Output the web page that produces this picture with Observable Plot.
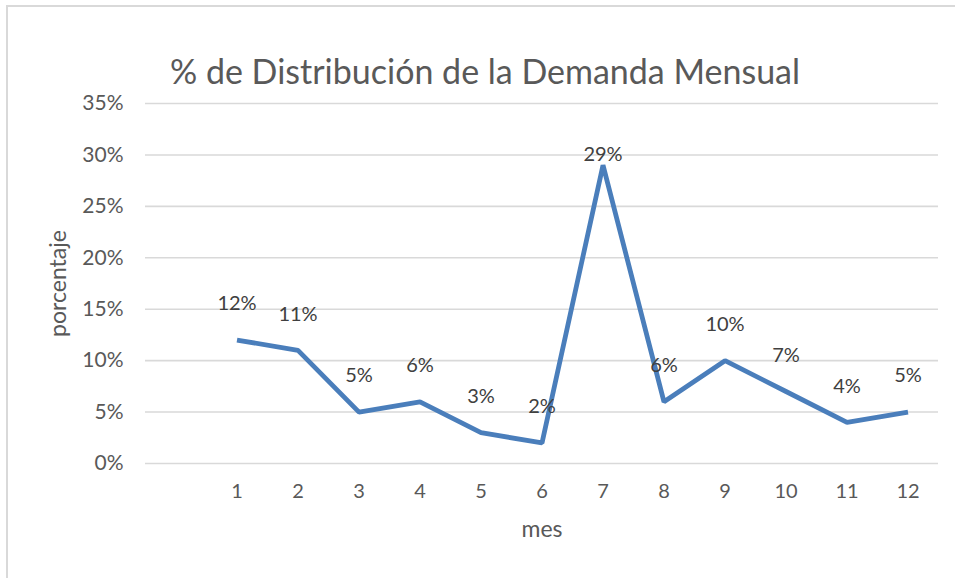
<!DOCTYPE html>
<html>
<head>
<meta charset="utf-8">
<script src="https://cdn.jsdelivr.net/npm/d3@7"></script>
<script src="https://cdn.jsdelivr.net/npm/@observablehq/plot@0.6"></script>
<style>
  html, body { margin: 0; padding: 0; background: #fff; }
  #chart { position: relative; width: 955px; height: 578px; overflow: hidden; background: #fff; }
  #frame { position: absolute; left: 6px; top: 5px; width: 1000px; height: 1000px; border-left: 2px solid #d9d9d9; border-top: 2px solid #d9d9d9; }
  #title { position: absolute; left: 0; width: 970px; top: 51px; text-align: center; font-family: Lato, "Open Sans", sans-serif; font-size: 34px; line-height: 40px; color: #595959; white-space: nowrap; }
  #plot { position: absolute; left: 0; top: 0; }
</style>
</head>
<body>
<div id="chart">
  <div id="frame"></div>
  <div id="plot"></div>
  <div id="title">% de Distribución de la Demanda Mensual</div>
</div>
<script>
const titulo = "% de Distribución de la Demanda Mensual";
const meses = [1, 2, 3, 4, 5, 6, 7, 8, 9, 10, 11, 12];
const valores = [0.12, 0.11, 0.05, 0.06, 0.03, 0.02, 0.29, 0.06, 0.10, 0.07, 0.04, 0.05];
const yTicks = [0, 0.05, 0.10, 0.15, 0.20, 0.25, 0.30, 0.35];
const xLabel = "mes";
const yLabel = "porcentaje";

const data = meses.map((m, i) => ({mes: m, valor: valores[i]}));
const fmt = d3.format(".0%");
const textColor = "#595959";

const chart = Plot.plot({
  width: 955,
  height: 578,
  marginLeft: 145,
  marginRight: 17,
  marginTop: 103,
  marginBottom: 115,
  style: {fontFamily: "Lato, 'Open Sans', sans-serif", fontSize: "18px", color: textColor, background: "transparent", overflow: "visible"},
  x: {domain: [-0.5, 12.5]},
  y: {domain: [0, 0.35]},
  marks: [
    Plot.ruleY(yTicks, {stroke: "#d9d9d9", strokeWidth: 1.6}),
    Plot.axisY({ticks: yTicks, tickFormat: fmt, tickSize: 0, tickPadding: 22, label: null, fill: textColor, fontSize: 21}),
    Plot.axisX({ticks: meses, tickFormat: d => String(d), tickSize: 0, tickPadding: 20, label: null, fill: textColor, fontSize: 20}),
    Plot.text([yLabel], {frameAnchor: "left", textAnchor: "middle", rotate: -90, dx: -87, fontSize: 23, fill: textColor}),
    Plot.text([xLabel], {frameAnchor: "bottom", textAnchor: "middle", dy: 73, fontSize: 23, fill: textColor}),
    Plot.line(data, {x: "mes", y: "valor", stroke: "#4a7ebb", strokeWidth: 4.8, strokeLinejoin: "miter", strokeLinecap: "butt"}),
    Plot.text(data, {x: "mes", y: d => Math.min(d.valor + 0.035, 0.30), text: d => fmt(d.valor), fill: "#404040", fontSize: 20})
  ]
});
document.getElementById("plot").appendChild(chart);
document.getElementById("title").textContent = titulo;
</script>
</body>
</html>
